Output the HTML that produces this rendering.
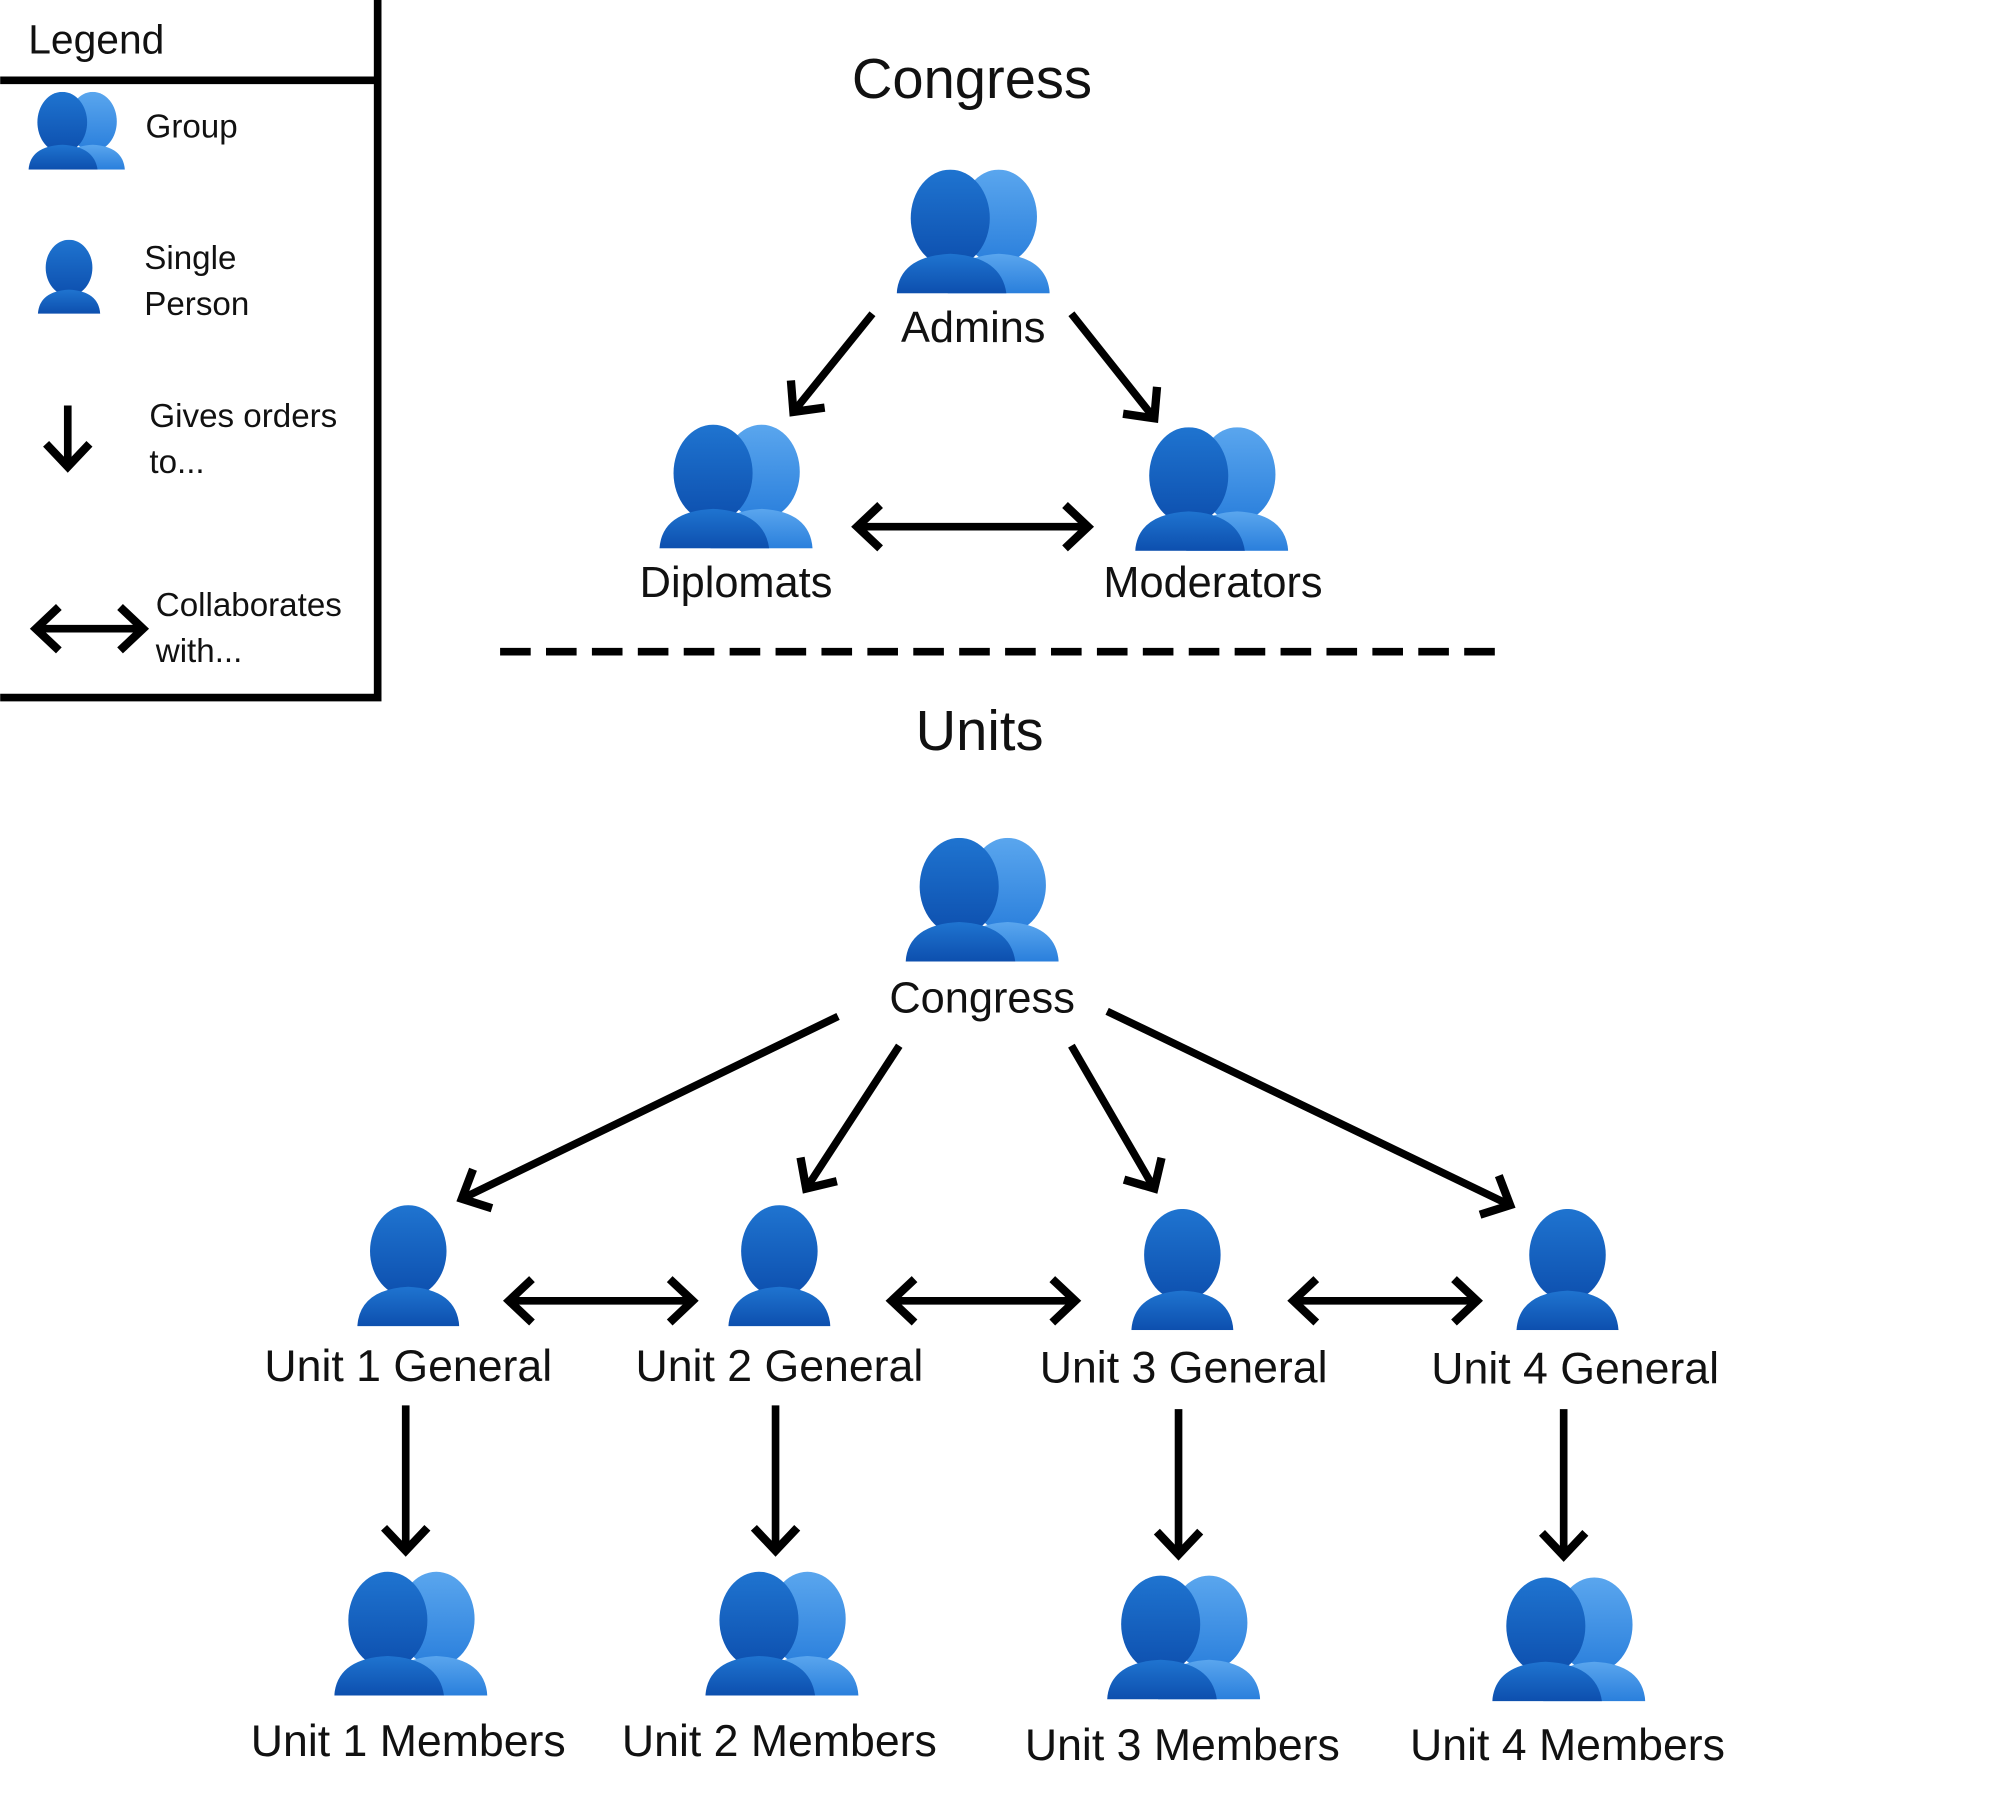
<!DOCTYPE html>
<html><head><meta charset="utf-8"><style>
html,body{margin:0;padding:0;background:#fff;}
svg{display:block}
text{font-family:"Liberation Sans",sans-serif;fill:#111}
</style></head><body>
<svg width="2000" height="1816" viewBox="0 0 1568 1424" xmlns="http://www.w3.org/2000/svg">
<defs>
<linearGradient id="gf" x1="0" y1="0" x2="0" y2="1"><stop offset="0" stop-color="#1f74d0"/><stop offset="1" stop-color="#0d4fae"/></linearGradient>
<linearGradient id="gb" x1="0" y1="0" x2="0" y2="1"><stop offset="0" stop-color="#5aa6ee"/><stop offset="1" stop-color="#2a7fdc"/></linearGradient>
<symbol id="grp" viewBox="0 0 120 97">
<ellipse cx="80" cy="37" rx="30" ry="37" fill="url(#gb)"/>
<path d="M40 97 Q42 68 80 66 Q118 68 120 97 Z" fill="url(#gb)"/>
<ellipse cx="42" cy="38" rx="31" ry="38" fill="url(#gf)"/>
<path d="M0 97 Q2 68 42 66 Q82 68 86 97 Z" fill="url(#gf)"/>
</symbol>
<symbol id="one" viewBox="0 0 80 95">
<ellipse cx="40" cy="36" rx="30" ry="36" fill="url(#gf)"/>
<path d="M0 95 Q2 66 40 64 Q78 66 80 95 Z" fill="url(#gf)"/>
</symbol>
<marker id="ah" markerUnits="userSpaceOnUse" markerWidth="40" markerHeight="40" viewBox="-25 -20 30 40" refX="0" refY="0" orient="auto-start-reverse">
<path d="M-18,-17 L0,0 L-18,17" fill="none" stroke="#000" stroke-width="6.5"/>
</marker>
</defs>
<g stroke="#000" stroke-width="6" fill="none">
<path d="M296 0 V547 H0 M0 63 H296"/>
<line x1="53" y1="318" x2="53" y2="366" marker-end="url(#ah)"/>
<line x1="28" y1="493" x2="112" y2="493" marker-start="url(#ah)" marker-end="url(#ah)"/>
<line x1="684" y1="246" x2="622" y2="323" marker-end="url(#ah)"/>
<line x1="840" y1="246" x2="905" y2="328" marker-end="url(#ah)"/>
<line x1="672" y1="413" x2="853" y2="413" marker-start="url(#ah)" marker-end="url(#ah)"/>
<line x1="392" y1="511" x2="1175" y2="511" stroke-dasharray="24 12"/>
<line x1="657" y1="797" x2="362" y2="940" marker-end="url(#ah)"/>
<line x1="705" y1="820" x2="632" y2="932" marker-end="url(#ah)"/>
<line x1="840" y1="820" x2="905" y2="932" marker-end="url(#ah)"/>
<line x1="868" y1="793" x2="1184" y2="945" marker-end="url(#ah)"/>
<line x1="399" y1="1020" x2="543" y2="1020" marker-start="url(#ah)" marker-end="url(#ah)"/>
<line x1="699" y1="1020" x2="843" y2="1020" marker-start="url(#ah)" marker-end="url(#ah)"/>
<line x1="1014" y1="1020" x2="1158" y2="1020" marker-start="url(#ah)" marker-end="url(#ah)"/>
<line x1="318" y1="1102" x2="318" y2="1216" marker-end="url(#ah)"/>
<line x1="608" y1="1102" x2="608" y2="1216" marker-end="url(#ah)"/>
<line x1="924" y1="1105" x2="924" y2="1219" marker-end="url(#ah)"/>
<line x1="1226" y1="1105" x2="1226" y2="1220" marker-end="url(#ah)"/>
</g>
<use href="#grp" x="22" y="72" width="76" height="61"/>
<use href="#one" x="28" y="188" width="52" height="58"/>
<use href="#grp" x="703" y="133" width="120" height="97"/>
<use href="#grp" x="517" y="333" width="120" height="97"/>
<use href="#grp" x="890" y="335" width="120" height="97"/>
<use href="#grp" x="710" y="657" width="120" height="97"/>
<use href="#one" x="280" y="945" width="80" height="95"/>
<use href="#one" x="571" y="945" width="80" height="95"/>
<use href="#one" x="887" y="948" width="80" height="95"/>
<use href="#one" x="1189" y="948" width="80" height="95"/>
<use href="#grp" x="262" y="1232" width="120" height="98"/>
<use href="#grp" x="553" y="1232" width="120" height="98"/>
<use href="#grp" x="868" y="1235" width="120" height="98"/>
<use href="#grp" x="1170" y="1237" width="120" height="97"/>
<text x="22" y="42" font-size="32">Legend</text>
<text x="114" y="108" font-size="26">Group</text>
<text x="113" y="211" font-size="26">Single</text>
<text x="113" y="247" font-size="26">Person</text>
<text x="117" y="335" font-size="26">Gives orders</text>
<text x="117" y="371" font-size="26">to...</text>
<text x="122" y="483" font-size="26">Collaborates</text>
<text x="122" y="519" font-size="26">with...</text>
<g text-anchor="middle">
<text x="762" y="77" font-size="44">Congress</text>
<text x="763" y="268" font-size="34">Admins</text>
<text x="577" y="468" font-size="34">Diplomats</text>
<text x="951" y="468" font-size="34">Moderators</text>
<text x="768" y="588" font-size="44">Units</text>
<text x="770" y="794" font-size="34">Congress</text>
<text x="320" y="1083" font-size="35">Unit 1 General</text>
<text x="611" y="1083" font-size="35">Unit 2 General</text>
<text x="928" y="1084" font-size="35">Unit 3 General</text>
<text x="1235" y="1085" font-size="35">Unit 4 General</text>
<text x="320" y="1377" font-size="35">Unit 1 Members</text>
<text x="611" y="1377" font-size="35">Unit 2 Members</text>
<text x="927" y="1380" font-size="35">Unit 3 Members</text>
<text x="1229" y="1380" font-size="35">Unit 4 Members</text>
</g>
</svg>
</body></html>
